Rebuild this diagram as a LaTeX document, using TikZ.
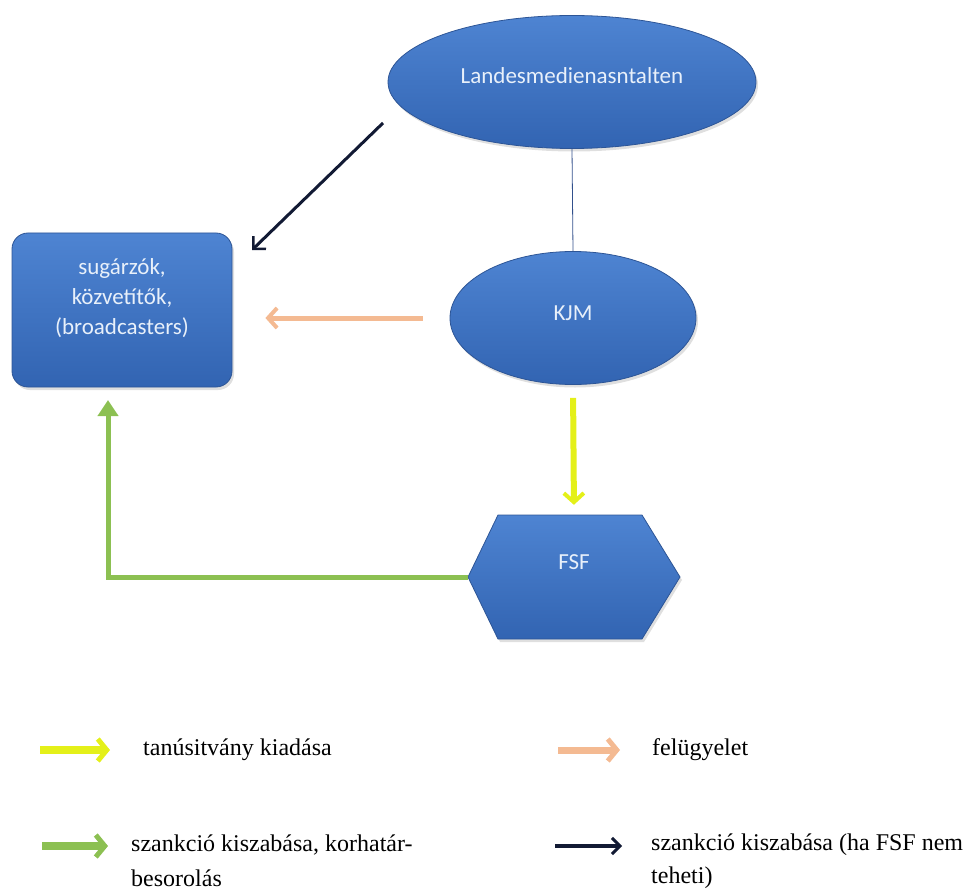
\documentclass[tikz,border=0pt]{standalone}
\usepackage{fontspec}
\setmainfont{Liberation Serif}
\newfontfamily\calib{Carlito}
\usetikzlibrary{arrows.meta,shapes.geometric,shadows}
\definecolor{shapetop}{RGB}{78,132,210}
\definecolor{shapebot}{RGB}{50,100,178}
\definecolor{shapeline}{RGB}{45,85,150}
\definecolor{shapetext}{RGB}{232,240,250}
\definecolor{yelc}{RGB}{228,240,25}
\definecolor{orac}{RGB}{244,186,146}
\definecolor{grec}{RGB}{140,192,82}
\definecolor{navc}{RGB}{18,26,52}
\definecolor{linec}{RGB}{50,80,140}
\begin{document}
\begin{tikzpicture}[x=1pt,y=-1pt,
  blueshape/.style={top color=shapetop,bottom color=shapebot,draw=shapeline,line width=0.8pt,
    drop shadow={opacity=0.25,shadow xshift=2pt,shadow yshift=-3pt}},
  ellnode/.style={blueshape,ellipse,inner sep=0pt,text=shapetext,font=\calib\fontsize{23}{28}\selectfont},
  boxnode/.style={blueshape,rectangle,rounded corners=16pt,inner sep=0pt},
  shapelabel/.style={text=shapetext,font=\calib\fontsize{23}{30}\selectfont,align=center,inner sep=0pt},
  yelarr/.style={draw=yelc,line width=6pt,-{Straight Barb[length=9pt,width=20pt,line width=4pt]}},
  oraarr/.style={draw=orac,line width=5pt,-{Straight Barb[length=9pt,width=20pt,line width=4pt]}},
  grearr/.style={draw=grec,line width=5pt,-{Triangle[length=16pt,width=20pt]}},
  navarr/.style={draw=navc,line width=3pt,-{Straight Barb[length=9pt,width=18pt,line width=2.5pt]}},
  legyel/.style={draw=yelc,line width=8pt,-{Straight Barb[length=9pt,width=22pt,line width=5pt]}},
  legora/.style={draw=orac,line width=7pt,-{Straight Barb[length=9pt,width=22pt,line width=5pt]}},
  leggre/.style={draw=grec,line width=8pt,-{Straight Barb[length=9pt,width=22pt,line width=5pt]}},
  legnav/.style={draw=navc,line width=3.5pt,-{Straight Barb[length=8pt,width=16pt,line width=3pt]}},
  legtext/.style={anchor=west,inner sep=0pt,align=left,font=\fontsize{24}{35}\selectfont}
]
\useasboundingbox (0,0) rectangle (976,893);

% shapes
\node[ellnode,minimum width=368pt,minimum height=133pt] (lm) at (572,82) {\raisebox{12pt}{Landesmedienasntalten}};
\node[ellnode,minimum width=246pt,minimum height=133pt] (kjm) at (573,318) {\raisebox{10pt}{KJM}};
\node[boxnode,minimum width=220pt,minimum height=154pt] (bc) at (122,310) {};
\node[shapelabel] (bctext) at (122,298) {sugárzók,\\közvetítők,\\(broadcasters)};

\draw[blueshape] (468,577) -- (498,515) -- (642,515) -- (680,577) -- (642,639) -- (498,639) -- cycle;
\node[inner sep=0pt,minimum width=212pt,minimum height=124pt] (fsf) at (574,577) {};
\node[shapelabel] (fsftext) at (574,562) {FSF};

% connectors
\draw[linec,line width=0.8pt] (lm.south) -- (kjm.north);
\coordinate (n1) at (383,123);
\coordinate (n2) at (252,250);
\draw[navarr] (n1) -- (n2);
\draw[oraarr,shorten <=27pt,shorten >=33pt] (kjm.west) -- (kjm.west -| bc.east);
\draw[yelarr,shorten <=13pt,shorten >=10pt] (kjm.south) -- (fsf.north);
\coordinate (gtip) at (108,400);
\draw[grearr] (fsf.west) -| (gtip);

% legend
\coordinate (l1a) at (40,750); \coordinate (l1b) at (110,750);
\draw[legyel] (l1a) -- (l1b);
\node[legtext] (t1) at (143,750) {tanúsitvány kiadása};
\coordinate (l2a) at (558,750); \coordinate (l2b) at (620,750);
\draw[legora] (l2a) -- (l2b);
\node[legtext] (t2) at (652,750) {felügyelet};
\coordinate (l3a) at (42,846); \coordinate (l3b) at (108,846);
\draw[leggre] (l3a) -- (l3b);
\node[legtext] (t3) at (131,845) {szankció kiszabása, korhatár-};
\node[legtext] (t3b) at (131,878) {besorolás};
\coordinate (l4a) at (555,846); \coordinate (l4b) at (622,846);
\draw[legnav] (l4a) -- (l4b);
\node[legtext] (t4) at (651,845) {szankció kiszabása (ha FSF nem};
\node[legtext] (t4b) at (651,878) {teheti)};
\end{tikzpicture}
\end{document}
